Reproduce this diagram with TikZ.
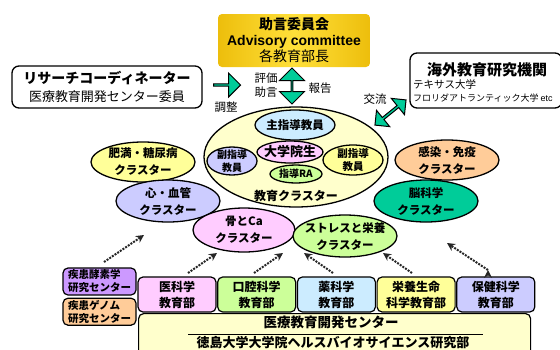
\documentclass[tikz,border=0pt]{standalone}
\usepackage{fontspec}
\setmainfont{Noto Sans CJK JP}
\newfontfamily\latfont{Liberation Sans}
\usepackage{xcolor}
\usetikzlibrary{positioning,shapes.geometric,shapes.arrows,arrows.meta}

\definecolor{cYellow}{HTML}{FFFF99}
\definecolor{cCream}{HTML}{FFFFCC}
\definecolor{cLav}{HTML}{CCCCFF}
\definecolor{cPink}{HTML}{FFCCFF}
\definecolor{cLime}{HTML}{CCFF99}
\definecolor{cSky}{HTML}{CCECFF}
\definecolor{cPeach}{HTML}{FFCC99}
\definecolor{cTeal}{HTML}{00CC99}
\definecolor{cViolet}{HTML}{CC99FF}
\definecolor{cGoldD}{HTML}{EDBE0C}
\definecolor{cGoldL}{HTML}{FFE03A}

\begin{document}
\begin{tikzpicture}[x=1pt,y=-1pt,
    oval/.style={ellipse,draw,line width=1.3pt,inner xsep=-5pt,inner ysep=-2pt,align=center,font=\bfseries\fontsize{11.5}{17}\selectfont},
    inner oval/.style={oval,inner sep=-3pt,font=\bfseries\fontsize{10}{13}\selectfont},
    dept/.style={draw,line width=1.2pt,rounded corners=5pt,minimum width=78pt,minimum height=35pt,inner sep=0pt,align=center,font=\bfseries\fontsize{12}{16}\selectfont},
    lab box/.style={draw,line width=1.3pt,rounded corners=7pt,fill=white,inner sep=0pt},
    green arrow/.style={draw,line width=1pt,fill=cTeal,inner sep=0pt},
    dot arrow/.style={-{Stealth[length=8pt,width=8pt]},line width=2pt,dash pattern=on 2pt off 1.2pt,draw=black!85},
    note/.style={font=\fontsize{11.5}{14}\selectfont,align=center,inner sep=0pt}]
    \useasboundingbox (0,0) rectangle (560,349);
    \clip (0,0) rectangle (560,349);

    % committee, coordinator, overseas
    \node[left color=cGoldD,right color=cGoldD,middle color=cGoldL,rounded corners=4pt,minimum width=152pt,minimum height=53pt,inner sep=0pt,align=center,font=\fontsize{14}{16}\selectfont] (adv) at (294,40.5) {{\bfseries 助言委員会}\\{\latfont\bfseries Advisory committee}\\各教育部長};
    \node[lab box,minimum width=190pt,minimum height=42pt,align=center,font=\fontsize{13}{18}\selectfont] (rc) at (107,87) {{\bfseries\fontsize{14}{18}\selectfont リサーチコーディネーター}\\医療教育開発センター委員};
    \node[lab box,minimum width=152pt,minimum height=55pt] (kaigai) at (486,80.5) {};
    \node[font=\bfseries\fontsize{15}{15}\selectfont,inner sep=0pt] (kaigaiT) at (487,70) {海外教育研究機関};
    \node[font=\fontsize{10.5}{10}\selectfont,inner sep=0pt,anchor=west] (kaigaiA) at (413,84) {テキサス大学};
    \node[font=\fontsize{9}{10}\selectfont,inner sep=0pt,anchor=west] (kaigaiB) at (413,98) {フロリダアトランティック大学 {\latfont etc}};

    \node[green arrow,single arrow,single arrow head extend=5pt,minimum height=27pt,minimum width=24pt] (arrR) at (226.5,85) {};
    \node[green arrow,double arrow,double arrow head extend=6pt,minimum height=36pt,minimum width=25pt,shape border rotate=90] (arrV) at (292,86) {};
    \node[green arrow,double arrow,double arrow head extend=5pt,minimum height=40pt,minimum width=21pt,shape border uses incircle,shape border rotate=39] (arrD) at (390.5,112.5) {};
    \node[note] (hyoka) at (266,85) {評価\\助言};
    \node[note] (chosei) at (226,107) {調整};
    \node[note] (hokoku) at (320,88) {報告};
    \node[note] (koryu) at (375,99) {交流};

    % education cluster
    \node[oval,fill=cCream,minimum width=184pt,minimum height=100pt] (edu) at (296,157) {};
    \node[font=\bfseries\fontsize{12}{12}\selectfont,inner sep=0pt] (eduT) at (296,196) {教育クラスター};
    \node[inner oval,fill=cSky,minimum width=80pt,minimum height=30pt,font=\bfseries\fontsize{11.5}{12}\selectfont] (shu) at (295,125) {主指導教員};
    \node[inner oval,fill=cLav,minimum width=50pt,minimum height=28pt] (fukuL) at (232,161) {副指導\\教員};
    \node[inner oval,fill=cYellow,minimum width=60pt,minimum height=30pt,font=\bfseries\fontsize{10.5}{13}\selectfont] (fukuR) at (353,160) {副指導\\教員};
    \node[inner oval,fill=cLime,minimum width=52pt,minimum height=18pt] (ra) at (296,174) {指導RA};
    \node[inner oval,fill=cPink,minimum width=66pt,minimum height=22pt,font=\bfseries\fontsize{13}{13}\selectfont] (ds) at (290,152) {大学院生};

    % research clusters
    \node[oval,fill=cYellow,minimum width=104pt,minimum height=40pt] (himan) at (143,162) {肥満・糖尿病\\クラスター};
    \node[oval,fill=cLav,minimum width=104pt,minimum height=42pt] (shin) at (168,201) {心・血管\\クラスター};
    \node[oval,fill=cPink,minimum width=102pt,minimum height=44pt] (hone) at (244,230) {骨とCa\\クラスター};
    \node[oval,fill=cLime,minimum width=104pt,minimum height=42pt] (stress) at (345,236) {ストレスと栄養\\クラスター};
    \node[oval,fill=cPeach,minimum width=104pt,minimum height=40pt] (kansen) at (447,160) {感染・免疫\\クラスター};
    \node[oval,fill=cTeal,minimum width=104pt,minimum height=42pt] (nou) at (426,201) {脳科学\\クラスター};

    % departments
    \node[dept,fill=cPink] (ika) at (177,294.5) {医科学\\教育部};
    \node[dept,fill=cLime,right=0.5pt of ika] (koku) {口腔科学\\教育部};
    \node[dept,fill=cSky,right=0.5pt of koku] (yaku) {薬科学\\教育部};
    \node[dept,fill=cYellow,right=0.5pt of yaku] (eiyo) {栄養生命\\科学教育部};
    \node[dept,fill=cLav,right=0.5pt of eiyo] (hoken) {保健科学\\教育部};
    \node[dept,fill=cViolet,minimum width=73pt,minimum height=27pt,align=left,font=\bfseries\fontsize{10.5}{13}\selectfont] (koso) at (99.5,281.5) {疾患酵素学\\研究センター};
    \node[dept,fill=cPeach,minimum width=73pt,minimum height=27pt,align=left,font=\bfseries\fontsize{10.5}{13}\selectfont,below=2pt of koso] (genome) {疾患ゲノム\\研究センター};
    \node[dept,fill=cCream,minimum width=392pt,minimum height=50pt,anchor=north west] (iryo) at (138,313) {};
    \node[font=\bfseries\fontsize{13.5}{14}\selectfont,inner sep=0pt] (iryoT) at (331,322) {医療教育開発センター};
    \draw[line width=0.8pt] (188,334.5) -- (483,334.5);
    \node[font=\bfseries\fontsize{13}{14}\selectfont,inner sep=0pt] (tokuT) at (333,343) {徳島大学大学院ヘルスバイオサイエンス研究部};

    % dotted arrows
    \coordinate (a1) at (104,262); \coordinate (b1) at (144,235);
    \coordinate (a2) at (188,273); \coordinate (b2) at (217,253);
    \coordinate (a3) at (254,273); \coordinate (b3) at (283,253);
    \coordinate (a4) at (333,273); \coordinate (b4) at (304,253);
    \coordinate (a5) at (412,273); \coordinate (b5) at (383,253);
    \coordinate (a6) at (488,270); \coordinate (b6) at (447,243);
    \path[dot arrow]
        (a1) edge (b1)
        (a2) edge (b2)
        (a3) edge (b3)
        (a4) edge (b4)
        (a5) edge (b5)
        (a6) edge (b6)
        ;
\end{tikzpicture}
\end{document}
